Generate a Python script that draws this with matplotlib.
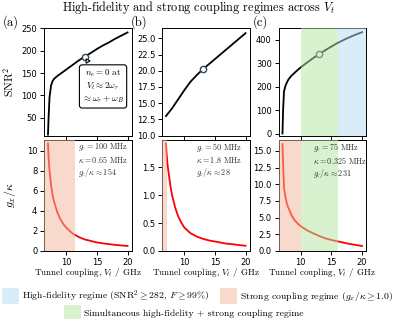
import matplotlib
matplotlib.use("Agg")
import matplotlib.pyplot as plt
from matplotlib.patches import Patch

plt.rcParams['mathtext.fontset'] = 'cm'
plt.rcParams['axes.unicode_minus'] = False
SERIF = 'cmr10'

# ---------------- data ----------------
vt = [7, 7.1, 7.25, 7.5, 7.75, 8, 8.5, 9, 9.5, 10, 11, 12, 13, 14, 15, 16, 17, 18, 19, 20]

snr_a = [12, 50, 95, 122, 132, 137, 143, 148, 153, 158, 168, 178, 187, 195, 204, 212, 219, 227, 234, 241]
snr_b = [13.0, 13.1, 13.3, 13.6, 13.9, 14.2, 14.9, 15.6, 16.3, 17.0, 18.3, 19.3, 20.2, 21.0, 21.8, 22.6, 23.4, 24.2, 25.0, 25.8]
snr_c = [0, 100, 180, 205, 220, 232, 248, 260, 272, 283, 303, 322, 339, 356, 372, 387, 400, 412, 423, 433]

g_a = [10.7, 9.3, 8.0, 6.6, 5.6, 4.9, 3.9, 3.2, 2.7, 2.3, 1.75, 1.4, 1.15, 1.0, 0.85, 0.76, 0.68, 0.61, 0.55, 0.5]
g_b = [1.93, 1.75, 1.55, 1.35, 1.15, 1.0, 0.78, 0.62, 0.51, 0.42, 0.32, 0.26, 0.22, 0.19, 0.17, 0.15, 0.13, 0.12, 0.105, 0.095]
g_c = [16.0, 13.0, 9.5, 8.0, 7.0, 6.4, 5.3, 4.6, 4.1, 3.7, 3.1, 2.65, 2.25, 1.9, 1.65, 1.45, 1.25, 1.05, 0.9, 0.75]

marker_vt = 13
marker_snr = [187, 20.2, 339]

panel_labels = ['(a)', '(b)', '(c)']
gc_text = ['$g_c = 100$ MHz\n$\\kappa = 0.65$ MHz\n$g_c/\\kappa \\approx 154$',
           '$g_c = 50$ MHz\n$\\kappa = 1.8$ MHz\n$g_c/\\kappa \\approx 28$',
           '$g_c = 75$ MHz\n$\\kappa = 0.325$ MHz\n$g_c/\\kappa \\approx 231$']

top_ylim = [(10, 251), (10, 26.6), (-8.5, 451)]
bot_ylim = [(0, 11.1), (0, 2.0), (0, 16.7)]
top_yticks = [[50, 100, 150, 200, 250], [10.0, 12.5, 15.0, 17.5, 20.0, 22.5, 25.0], [0, 100, 200, 300, 400]]
bot_yticks = [[0, 2, 4, 6, 8, 10], [0.0, 0.5, 1.0, 1.5], [0.0, 2.5, 5.0, 7.5, 10.0, 12.5, 15.0]]
bot_fmt = ['{:.0f}', '{:.1f}', '{:.1f}']
top_fmt = ['{:.0f}', '{:.1f}', '{:.0f}']

# regime boundaries (V_t, GHz)
strong_end = [11.4, 7.1, 10.0]
both_start, both_end = 10.0, 16.0

XLIM = (6.35, 20.65)
C_BLUE = '#b5ddf5'
C_PINK = '#f3b79d'
C_GREEN = '#b3e5a1'
ALPHA = 0.5

fig = plt.figure(figsize=(3.97, 3.19), dpi=100)
W, H = 397, 319

def ax_rect(x0, y0, x1, y1):
    return [x0 / W, 1 - y1 / H, (x1 - x0) / W, (y1 - y0) / H]

lefts = [44, 162, 278.5]
label_x = [3, 131, 253]
width = 87.5
tops = []
bots = []
for i in range(3):
    axt = fig.add_axes(ax_rect(lefts[i], 28, lefts[i] + width, 135.5))
    axb = fig.add_axes(ax_rect(lefts[i], 139.5, lefts[i] + width, 251))
    tops.append(axt)
    bots.append(axb)

snrs = [snr_a, snr_b, snr_c]
gs = [g_a, g_b, g_c]

for i in range(3):
    axt, axb = tops[i], bots[i]
    axt.plot(vt, snrs[i], color='black', lw=1.3, zorder=2)
    axt.plot([marker_vt], [marker_snr[i]], 'o', ms=4.5, mfc='white', mec='#2c4a5a', mew=1.0, zorder=3)
    axb.plot(vt, gs[i], color='red', lw=1.3, zorder=2)
    for ax in (axt, axb):
        ax.set_xlim(*XLIM)
        ax.set_xticks([10, 15, 20])
        ax.tick_params(labelsize=6, length=3, width=0.7, pad=1.8)
        for s in ax.spines.values():
            s.set_linewidth(0.7)
    axt.tick_params(labelbottom=False)
    axb.set_xticklabels(['10', '15', '20'])
    axt.set_ylim(*top_ylim[i])
    axb.set_ylim(*bot_ylim[i])
    axt.set_yticks(top_yticks[i])
    axt.set_yticklabels([top_fmt[i].format(v) for v in top_yticks[i]])
    axb.set_yticks(bot_yticks[i])
    axb.set_yticklabels([bot_fmt[i].format(v) for v in bot_yticks[i]])
    axb.set_xlabel('Tunnel coupling, $V_t$ / GHz', fontsize=6.5, family=SERIF, labelpad=-0.5)
    axb.text(0.39, 0.985, gc_text[i], transform=axb.transAxes, ha='left', va='top',
             fontsize=5.9, family=SERIF, color='#333333', linespacing=1.1, zorder=5)
    # strong coupling shading
    axb.axvspan(XLIM[0], strong_end[i], color=C_PINK, alpha=ALPHA, lw=0, zorder=3)
    fig.text(label_x[i] / W, 1 - 22.5 / H, panel_labels[i],
             fontsize=9, family=SERIF, ha='left', va='center')

# panel (c) shading
tops[2].axvspan(both_start, both_end, color=C_GREEN, alpha=ALPHA, lw=0, zorder=3)
tops[2].axvspan(both_end, XLIM[1], color=C_BLUE, alpha=ALPHA, lw=0, zorder=3)
bots[2].axvspan(both_start, both_end, color=C_GREEN, alpha=ALPHA, lw=0, zorder=3)

tops[0].set_ylabel('SNR$^2$', fontsize=8.5, family=SERIF, labelpad=4)
bots[0].set_ylabel('$g_x/\\kappa$', fontsize=8.5, labelpad=6)

# annotation in (a)
tops[0].annotate('$n_e = 0$ at\n$V_t \\approx 2\\omega_r$\n$\\approx \\omega_r + \\omega_B$',
                 xy=(marker_vt, marker_snr[0]), xytext=(16.0, 120), fontsize=6.5, family=SERIF,
                 ha='center', va='center', linespacing=1.2,
                 bbox=dict(boxstyle='round,pad=0.3', fc='white', ec='black', lw=0.8),
                 arrowprops=dict(arrowstyle='wedge,tail_width=0.5,shrink_factor=0.5', fc='white', ec='black', lw=0.8),
                 zorder=6)

fig.suptitle('High-fidelity and strong coupling regimes across $V_t$', fontsize=8.8, family=SERIF, y=1 - 7.2 / H, va='center')

# legends
h_blue = Patch(facecolor=C_BLUE, alpha=ALPHA, edgecolor='none')
h_pink = Patch(facecolor=C_PINK, alpha=ALPHA, edgecolor='none')
h_green = Patch(facecolor=C_GREEN, alpha=ALPHA, edgecolor='none')
leg_kw = dict(frameon=False, handlelength=1.75, handleheight=2.2, handletextpad=0.35,
              columnspacing=1.1, borderaxespad=0, borderpad=0,
              prop={'family': SERIF, 'size': 7})
fig.legend([h_blue, h_pink],
           ['High-fidelity regime ($\\mathrm{SNR}^2 \\geq 282,\\, F \\geq 99\\%$)',
            'Strong coupling regime ($g_x/\\kappa \\geq 1.0$)'],
           loc='center', bbox_to_anchor=(197.5 / W, 1 - 296 / H), ncol=2, **leg_kw)
fig.legend([h_green], ['Simultaneous high-fidelity + strong coupling regime'],
           loc='center', bbox_to_anchor=(183.5 / W, 1 - 313 / H), ncol=1, **leg_kw)

fig.savefig('out.png', dpi=100)
